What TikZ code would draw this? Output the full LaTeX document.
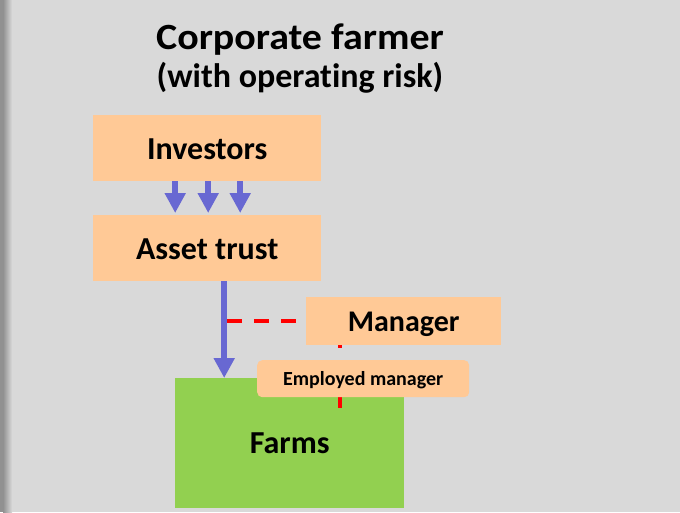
\documentclass[tikz,border=0pt]{standalone}
\usepackage{fontspec}
\setmainfont{Carlito}[Ligatures=NoCommon]
\newfontfamily\titlefont{Carlito}[Ligatures=NoCommon, FakeStretch=1.08]
\usetikzlibrary{arrows.meta}
\definecolor{bg}{RGB}{217,217,217}
\definecolor{peach}{RGB}{255,201,150}
\definecolor{farmgreen}{RGB}{146,208,80}
\definecolor{arrowblue}{RGB}{104,104,210}
\definecolor{edgegray}{RGB}{145,145,145}
\newcommand{\lowertext}[2]{\raisebox{-#1}[\height][\depth]{#2}}
\tikzset{
  box/.style={fill=peach, draw=none, anchor=north west, inner sep=0pt, font=\bfseries\fontsize{32}{36}\selectfont},
  flow/.style={draw=arrowblue, line width=6pt, -{Triangle[width=20pt,length=20pt]}},
  link/.style={draw=red, line width=3.5pt}
}
\begin{document}
\begin{tikzpicture}[x=1pt,y=-1pt]
\useasboundingbox (0,0) rectangle (680,512);
\fill[bg] (0,0) rectangle (680,512);
\fill[edgegray] (0,0) rectangle (3,512);
\shade[left color=edgegray, right color=bg] (3,0) rectangle (12,512);
% title
\node[anchor=base, inner sep=0pt, font=\titlefont\bfseries\fontsize{37}{40}\selectfont] (t1) at (300,49.5) {Corporate farmer};
\node[anchor=base, inner sep=0pt, font=\bfseries\fontsize{34}{38}\selectfont] (t2) at (300,87.5) {(with operating risk)};
% boxes
\node[box, minimum width=228pt, minimum height=66pt] (inv) at (93,115) {\lowertext{1.5pt}{Investors}};
\node[box, minimum width=228pt, minimum height=66pt] (trust) at (93,215) {\lowertext{1.5pt}{Asset trust}};
% small arrows
\foreach \dx in {-32,1,33}
  \draw[flow, shorten >=2pt] ([xshift=\dx pt]inv.south) -- ([xshift=\dx pt]trust.north);
% manager box
\node[box, minimum width=195pt, minimum height=48pt, font=\bfseries\fontsize{30}{34}\selectfont] (mgr) at (306,297) {\lowertext{3pt}{Manager}};
\node[fill=farmgreen, anchor=north west, minimum width=229pt, minimum height=130pt, inner sep=0pt,
      font=\bfseries\fontsize{32}{36}\selectfont] (farms) at (175,378) {Farms};
% big arrow and dashed link
\coordinate (a1) at ([xshift=17pt]trust.south);
\coordinate (a2) at (a1 |- farms.north);
\draw[link, dash pattern=on 15pt off 12pt] ([xshift=3pt]a1 |- mgr.west) -- (mgr.west);
\draw[flow] (a1) -- (a2);
% vertical red link
\coordinate (v1) at (340,345);
\coordinate (v2) at (340,408);
\draw[link, dash pattern=on 3pt off 49pt on 11pt off 5pt] (v1) -- (v2);
% employed manager
\node[fill=peach, anchor=north west, rounded corners=5pt, minimum width=212pt, minimum height=37pt, inner sep=0pt,
      font=\bfseries\fontsize{20}{24}\selectfont] (emp) at (257,360) {\lowertext{1.5pt}{Employed manager}};
\end{tikzpicture}
\end{document}
